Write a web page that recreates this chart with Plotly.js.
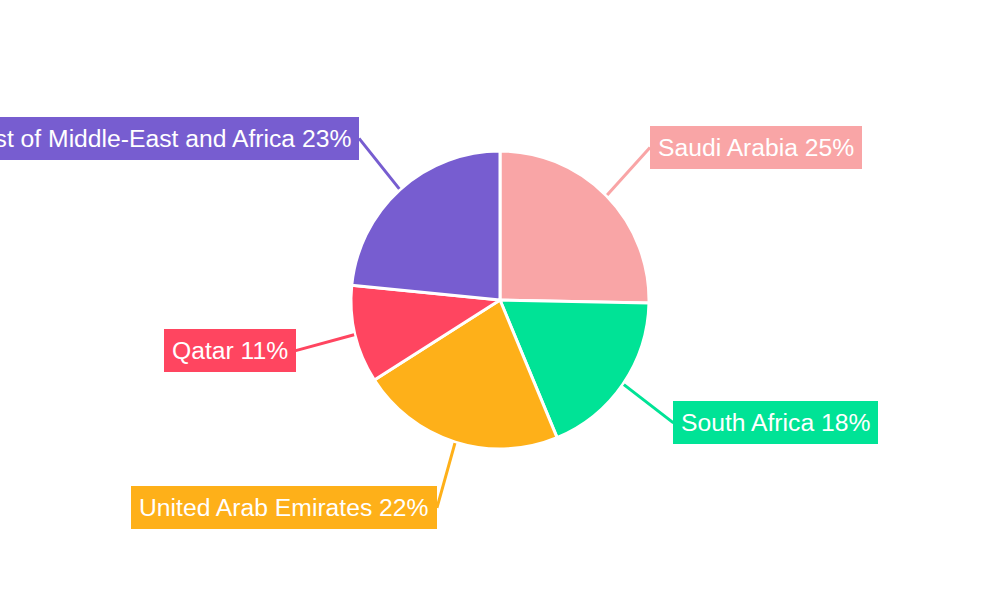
<!DOCTYPE html>
<html>
<head>
<meta charset="utf-8">
<script src="https://cdn.plot.ly/plotly-3.0.1.min.js"></script>
<style>
  html, body { margin: 0; padding: 0; background: #fff; }
  #chart { width: 1000px; height: 600px; }
</style>
</head>
<body>
<div id="chart"></div>
<script>
// data
const countries = ['Saudi Arabia', 'South Africa', 'United Arab Emirates', 'Qatar', 'Rest of Middle-East and Africa'];
const shares = [25.3, 18.4, 22.2, 10.6, 23.4];
const colors = ['#F9A5A6', '#00E396', '#FEB019', '#FF4560', '#775DD0'];

const W = 1000, H = 600;
const cx = 500, cy = 300, R = 149;   // pie centre and radius in px
const lineX = 60, lineY = 68;        // reach of the leader line, px

const total = shares.reduce((a, b) => a + b, 0);

// one boxed label per slice, pointing at the middle of its arc
let annotations = [];
let cum = 0;
shares.forEach(function (v, i) {
    const mid = (cum + v / 2) / total * 2 * Math.PI;   // clockwise from 12 o'clock
    cum += v;
    const sx = Math.sin(mid), sy = -Math.cos(mid);
    const hx = cx + (R + 1) * sx, hy = cy + (R + 1) * sy;
    annotations.push({
        x: hx / W, y: 1 - hy / H, xref: 'paper', yref: 'paper',
        ax: lineX * sx, ay: lineY * sy, axref: 'pixel', ayref: 'pixel',
        text: countries[i] + ' ' + Math.round(v / total * 100) + '%',
        showarrow: true, arrowhead: 0, arrowwidth: 3, arrowcolor: colors[i],
        standoff: 0, startstandoff: 0,
        xanchor: sx >= 0 ? 'left' : 'right', yanchor: 'middle',
        bgcolor: colors[i], borderwidth: 0, borderpad: 8,
        font: { family: 'Liberation Sans, Arial, sans-serif', size: 24.7, color: '#ffffff' }
    });
});

const trace = {
    type: 'pie',
    labels: countries,
    values: shares,
    sort: false,
    direction: 'clockwise',
    rotation: 0,
    textinfo: 'none',
    hoverinfo: 'skip',
    marker: { colors: colors, line: { color: '#ffffff', width: 3 } },
    domain: { x: [0, 1], y: [1 - (cy + R) / H, 1 - (cy - R) / H] }
};

const layout = {
    width: W, height: H,
    margin: { l: 0, r: 0, t: 0, b: 0 },
    showlegend: false,
    paper_bgcolor: '#ffffff',
    font: { family: 'Liberation Sans, Arial, sans-serif' },
    annotations: annotations
};

Plotly.newPlot('chart', [trace], layout, { displayModeBar: false, staticPlot: true });
</script>
</body>
</html>
